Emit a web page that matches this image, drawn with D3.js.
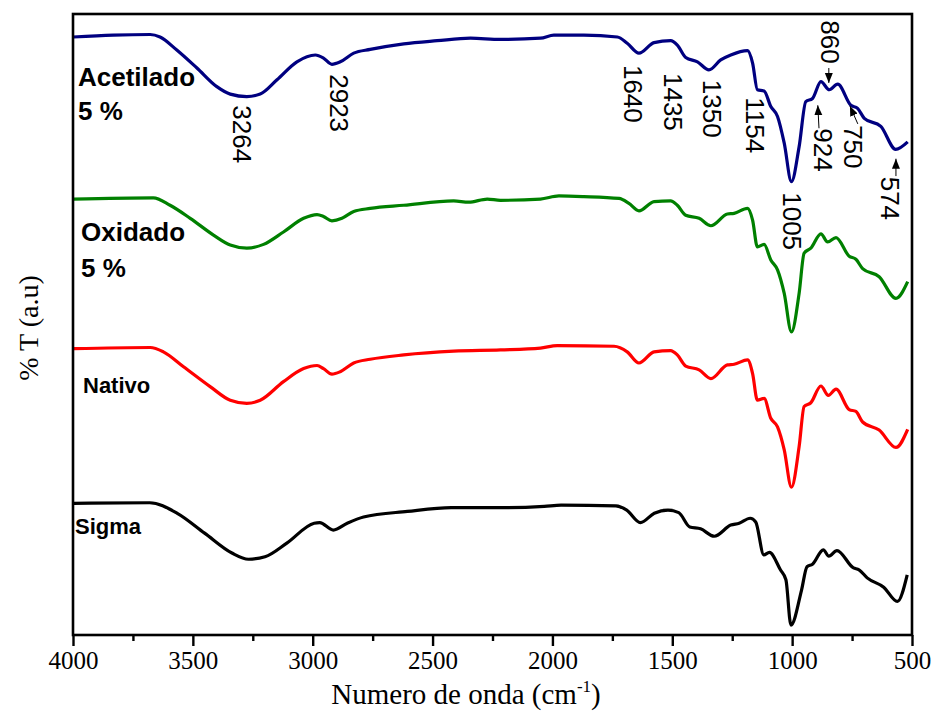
<!DOCTYPE html>
<html>
<head>
<meta charset="utf-8">
<script src="https://cdn.jsdelivr.net/npm/d3@7"></script>
<style>
  body { margin: 0; background: #fff; }
  svg { display: block; }
</style>
</head>
<body>
<div class="canvas"></div>
<script>
// wavenumber (cm-1) and transmittance (a.u.)
const acetiladoWn = [3999, 3832, 3678, 3637, 3567, 3483, 3400, 3344, 3275, 3219, 3149, 3066, 2989, 2955, 2920, 2885, 2829, 2760, 2620, 2481, 2342, 2217, 2050, 1994, 1869, 1729, 1688, 1639, 1576, 1507, 1479, 1444, 1395, 1347, 1298, 1256, 1186, 1165, 1145, 1117, 1089, 1061, 1033, 1003, 971, 943, 915, 880, 845, 810, 755, 727, 699, 630, 568, 518];
const acetiladoT = [96.3, 96.6, 96.7, 96.3, 94.2, 91.3, 88.3, 87.1, 86.7, 87.1, 89.4, 92.3, 93.4, 92.9, 91.9, 92.3, 93.7, 94.3, 95.2, 95.7, 96.1, 95.9, 96.1, 96.6, 96.6, 96.3, 95.3, 93.7, 95.4, 95.7, 95.0, 93.0, 92.3, 91.0, 92.6, 93.4, 94.1, 92.1, 87.8, 87.6, 85.1, 83.5, 79.2, 73.0, 78.6, 85.9, 86.4, 89.1, 87.8, 88.7, 85.3, 84.8, 83.2, 81.9, 78.2, 79.4];

const oxidadoWn = [3999, 3665, 3595, 3511, 3414, 3344, 3275, 3205, 3122, 3038, 2982, 2955, 2920, 2878, 2829, 2760, 2620, 2412, 2349, 2272, 2217, 2050, 1973, 1869, 1722, 1681, 1639, 1576, 1507, 1479, 1444, 1388, 1339, 1270, 1242, 1186, 1165, 1145, 1117, 1089, 1061, 1033, 1003, 971, 950, 922, 880, 852, 817, 762, 734, 706, 637, 567, 518];
const oxidadoT = [70.2, 70.4, 69.2, 67.1, 64.4, 62.8, 62.3, 62.9, 64.9, 67.1, 67.7, 67.4, 66.7, 67.1, 68.2, 68.7, 69.2, 69.9, 69.7, 70.2, 70.0, 70.2, 70.7, 70.6, 70.3, 69.5, 68.3, 69.8, 69.9, 69.2, 67.6, 67.1, 65.9, 67.8, 67.9, 68.7, 66.8, 62.5, 62.9, 60.4, 58.8, 55.0, 48.8, 55.0, 61.5, 62.3, 64.6, 63.3, 64.0, 61.0, 60.5, 59.0, 57.7, 54.2, 56.9];

const nativoWn = [3999, 3678, 3623, 3539, 3428, 3344, 3275, 3219, 3122, 3038, 2982, 2955, 2920, 2885, 2829, 2760, 2620, 2412, 2217, 2050, 1980, 1743, 1688, 1639, 1576, 1507, 1479, 1444, 1388, 1339, 1270, 1242, 1186, 1165, 1145, 1117, 1089, 1061, 1033, 1003, 971, 950, 922, 880, 849, 817, 762, 734, 706, 637, 567, 518];
const nativoT = [46.1, 46.3, 45.6, 43.2, 40.0, 37.8, 37.3, 37.8, 40.8, 42.9, 43.4, 42.9, 42.0, 42.4, 43.8, 44.4, 45.1, 45.7, 45.9, 46.2, 46.6, 46.5, 45.6, 43.8, 45.6, 45.8, 45.1, 43.3, 42.7, 41.3, 43.5, 43.6, 44.3, 42.1, 37.8, 38.1, 34.9, 33.5, 29.8, 23.8, 30.3, 36.8, 37.4, 40.1, 38.6, 39.6, 36.3, 36.0, 34.3, 33.0, 30.2, 33.1];

const sigmaWn = [3999, 3680, 3565, 3451, 3337, 3268, 3199, 3108, 2994, 2971, 2914, 2856, 2788, 2605, 2422, 2193, 2034, 1964, 1735, 1690, 1633, 1575, 1518, 1473, 1427, 1382, 1325, 1256, 1221, 1175, 1152, 1118, 1095, 1049, 1026, 1005, 961, 938, 915, 870, 847, 813, 744, 721, 687, 618, 561, 520];
const sigmaT = [21.2, 21.3, 19.6, 16.4, 13.2, 12.2, 12.6, 14.8, 18.0, 18.1, 16.9, 18.0, 19.0, 19.9, 20.5, 20.5, 20.7, 20.9, 20.8, 20.1, 18.1, 19.6, 20.1, 19.7, 17.4, 17.1, 15.9, 17.7, 18.0, 18.8, 18.2, 12.9, 13.3, 10.5, 8.9, 1.6, 7.2, 11.0, 11.4, 13.7, 12.7, 13.6, 10.8, 10.5, 9.2, 7.7, 5.4, 9.7];

const seriesNames = ['Acetilado', 'Oxidado', 'Nativo', 'Sigma'];
const seriesColors = ['#000080', '#008000', '#ff0000', '#000000'];

const majorTicks = [4000, 3500, 3000, 2500, 2000, 1500, 1000, 500];
const minorTicks = [3750, 3250, 2750, 2250, 1750, 1250, 750];

// band labels on the top spectrum: text, wavenumber and level of its first character
const peakLabels = ['3264', '2923', '1640', '1435', '1350', '1154', '1005', '924', '860', '750', '574'];
const peakLabelWn = [3332, 2927, 1703, 1536, 1373, 1193, 1039, 909, 880, 784, 629];
const peakLabelT = [85.3, 90.3, 91.8, 90.5, 89.4, 86.6, 71.3, 81.6, 99.0, 82.1, 73.8];

// arrows: from label towards the band
const arrowFromWn = [888, 847, 726, 567];
const arrowFromT = [81.6, 91.3, 82.3, 73.9];
const arrowToWn = [893, 847, 759, 567];
const arrowToT = [85.3, 88.9, 85.2, 76.7];

const dims = {width: 937, height: 711};
const margin = {top: 14, right: 25, bottom: 76, left: 73};

const svg = d3.select('.canvas')
  .append('svg')
  .attr('width', dims.width)
  .attr('height', dims.height);

const x = d3.scaleLinear()
  .domain([4000, 500])
  .range([margin.left, dims.width - margin.right]);

const y = d3.scaleLinear()
  .domain([0, 100])
  .range([dims.height - margin.bottom, margin.top]);

const wns = [acetiladoWn, oxidadoWn, nativoWn, sigmaWn];
const ts = [acetiladoT, oxidadoT, nativoT, sigmaT];

const line = d3.line()
  .x(d => x(d.wn))
  .y(d => y(d.t))
  .curve(d3.curveMonotoneX);

seriesNames.forEach((name, i) => {
  const data = wns[i].map((wn, j) => ({wn: wn, t: ts[i][j]}));
  svg.append('path')
    .datum(data)
    .attr('fill', 'none')
    .attr('stroke', seriesColors[i])
    .attr('stroke-width', 3.2)
    .attr('stroke-linejoin', 'round')
    .attr('d', line);
});

// frame
svg.append('rect')
  .attr('x', x(4000))
  .attr('y', y(100))
  .attr('width', x(500) - x(4000))
  .attr('height', y(0) - y(100))
  .attr('fill', 'none')
  .attr('stroke', '#000')
  .attr('stroke-width', 2.6);

// x axis
const xAxis = svg.append('g')
  .attr('transform', `translate(0, ${y(0)})`)
  .call(d3.axisBottom(x).tickValues(majorTicks).tickSize(11).tickPadding(5).tickFormat(d3.format('d')));

xAxis.select('.domain').remove();
xAxis.selectAll('.tick line').attr('stroke-width', 2.4);
xAxis.selectAll('.tick text')
  .attr('font-family', '"Liberation Serif", "Times New Roman", serif')
  .attr('font-size', 25)
  .attr('fill', '#000');

const xMinor = svg.append('g')
  .attr('transform', `translate(0, ${y(0)})`)
  .call(d3.axisBottom(x).tickValues(minorTicks).tickSize(6).tickFormat(''));
xMinor.select('.domain').remove();
xMinor.selectAll('.tick line').attr('stroke-width', 2.4);

// axis titles
const xTitle = svg.append('text')
  .attr('x', 466)
  .attr('y', 704)
  .attr('text-anchor', 'middle')
  .attr('font-family', '"Liberation Serif", "Times New Roman", serif')
  .attr('font-size', 29)
  .attr('fill', '#000');
xTitle.append('tspan').text('Numero de onda (cm');
xTitle.append('tspan').attr('dy', -12).attr('font-size', 17).text('-1');
xTitle.append('tspan').attr('dy', 12).text(')');

svg.append('text')
  .attr('transform', 'translate(38, 328) rotate(-90)')
  .attr('text-anchor', 'middle')
  .attr('font-family', '"Liberation Serif", "Times New Roman", serif')
  .attr('font-size', 28)
  .attr('fill', '#000')
  .text('% T (a.u)');

// series names
const nameFont = '"Liberation Sans", Arial, sans-serif';
const nameLines = [
  {text: 'Acetilado', x: 78, y: 86, size: 26},
  {text: '5 %', x: 78, y: 120, size: 26},
  {text: 'Oxidado', x: 81, y: 241, size: 26},
  {text: '5 %', x: 81, y: 277, size: 26},
  {text: 'Nativo', x: 83, y: 393, size: 22},
  {text: 'Sigma', x: 75, y: 534, size: 22}
];
nameLines.forEach(d => {
  svg.append('text')
    .attr('x', d.x)
    .attr('y', d.y)
    .attr('font-family', nameFont)
    .attr('font-weight', 'bold')
    .attr('font-size', d.size)
    .attr('fill', '#000')
    .text(d.text);
});

// band labels, rotated to read downwards
peakLabels.forEach((label, i) => {
  svg.append('text')
    .attr('transform', `translate(${x(peakLabelWn[i])}, ${y(peakLabelT[i])}) rotate(90)`)
    .attr('font-family', nameFont)
    .attr('font-size', 26)
    .attr('fill', '#000')
    .text(label);
});

// arrows
svg.append('defs').append('marker')
  .attr('id', 'head')
  .attr('viewBox', '0 0 10 10')
  .attr('refX', 10)
  .attr('refY', 5)
  .attr('markerWidth', 10)
  .attr('markerHeight', 10)
  .attr('markerUnits', 'userSpaceOnUse')
  .attr('orient', 'auto')
  .append('path')
  .attr('d', 'M0,1 L10,5 L0,9 Z')
  .attr('fill', '#000');

arrowFromWn.forEach((wn, i) => {
  svg.append('line')
    .attr('x1', x(wn))
    .attr('y1', y(arrowFromT[i]))
    .attr('x2', x(arrowToWn[i]))
    .attr('y2', y(arrowToT[i]))
    .attr('stroke', '#000')
    .attr('stroke-width', 1)
    .attr('marker-end', 'url(#head)');
});
</script>
</body>
</html>
